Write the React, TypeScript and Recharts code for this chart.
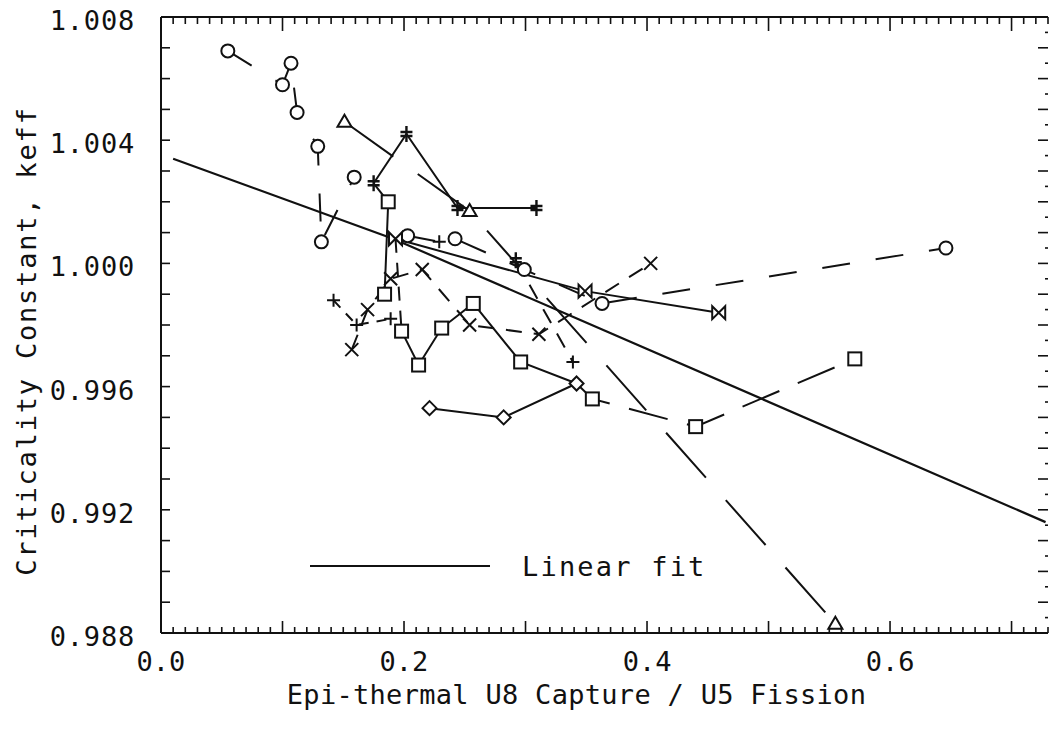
import React from 'react';
import { ComposedChart, Line, Scatter, XAxis, YAxis, Legend } from 'recharts';

const INK = '#111';
const FONT = "'DejaVu Sans Mono', 'Liberation Mono', monospace";

// tick labels
const xTickLabels = [0, 0.2, 0.4, 0.6];
const yTickLabels = [0.988, 0.992, 0.996, 1.0, 1.004, 1.008];

// markers (x = epi-thermal U8 capture / U5 fission, y = keff)
const circles = [
  { x: 0.055, y: 1.0069 },
  { x: 0.107, y: 1.0065 },
  { x: 0.1, y: 1.0058 },
  { x: 0.112, y: 1.0049 },
  { x: 0.129, y: 1.0038 },
  { x: 0.132, y: 1.0007 },
  { x: 0.159, y: 1.0028 },
  { x: 0.203, y: 1.0009 },
  { x: 0.242, y: 1.0008 },
  { x: 0.299, y: 0.9998 },
  { x: 0.363, y: 0.9987 },
  { x: 0.646, y: 1.0005 },
];
const triangles = [
  { x: 0.151, y: 1.0046 },
  { x: 0.254, y: 1.0017 },
  { x: 0.555, y: 0.9883 },
];
const bowties = [
  { x: 0.193, y: 1.0008 },
  { x: 0.349, y: 0.9991 },
  { x: 0.459, y: 0.9984 },
];
const squares = [
  { x: 0.187, y: 1.002 },
  { x: 0.184, y: 0.999 },
  { x: 0.198, y: 0.9978 },
  { x: 0.212, y: 0.9967 },
  { x: 0.231, y: 0.9979 },
  { x: 0.257, y: 0.9987 },
  { x: 0.296, y: 0.9968 },
  { x: 0.355, y: 0.9956 },
  { x: 0.44, y: 0.9947 },
  { x: 0.571, y: 0.9969 },
];
const crosses = [
  { x: 0.157, y: 0.9972 },
  { x: 0.17, y: 0.9985 },
  { x: 0.189, y: 0.9995 },
  { x: 0.215, y: 0.9998 },
  { x: 0.254, y: 0.998 },
  { x: 0.311, y: 0.9977 },
  { x: 0.403, y: 1.0 },
];
const pluses = [
  { x: 0.142, y: 0.9988 },
  { x: 0.161, y: 0.998 },
  { x: 0.189, y: 0.9982 },
  { x: 0.229, y: 1.0007 },
  { x: 0.339, y: 0.9968 },
];
const barCrosses = [
  { x: 0.175, y: 1.0026 },
  { x: 0.202, y: 1.0042 },
  { x: 0.244, y: 1.0018 },
  { x: 0.309, y: 1.0018 },
  { x: 0.292, y: 1.0001 },
];
const diamonds = [
  { x: 0.221, y: 0.9953 },
  { x: 0.282, y: 0.995 },
  { x: 0.342, y: 0.9961 },
];

// linear fit, read at a few points along the drawn line
const linearFit = [
  { x: 0.01, y: 1.0034 },
  { x: 0.191, y: 1.0008 },
  { x: 0.337, y: 0.9983 },
  { x: 0.728, y: 0.9916 },
];

// connecting lines between the measured points
const runs: { pts: { x: number; y: number }[]; dash?: string }[] = [
  { pts: [circles[0], circles[2], circles[1], circles[3], circles[4], circles[5], circles[6]], dash: '28 28' },
  { pts: [circles[7], pluses[3], circles[8], circles[9], circles[10], circles[11]], dash: '28 26' },
  { pts: [triangles[0], triangles[1], triangles[2]], dash: '60 30' },
  { pts: [barCrosses[0], barCrosses[1], barCrosses[2], barCrosses[3]] },
  { pts: [squares[1], squares[0], barCrosses[0]] },
  { pts: [bowties[0], bowties[1], bowties[2]] },
  { pts: [bowties[0], squares[2]], dash: '14 10' },
  { pts: [squares[2], squares[3], squares[4], squares[5], squares[6], diamonds[2]] },
  { pts: [diamonds[2], squares[7], squares[8], squares[9]], dash: '40 20' },
  { pts: [diamonds[0], diamonds[1], diamonds[2]] },
  { pts: [crosses[0], crosses[1], crosses[2], crosses[3], crosses[4], crosses[5], crosses[6]], dash: '16 12' },
  { pts: [pluses[0], pluses[1], pluses[2]], dash: '10 8' },
  { pts: [barCrosses[4], pluses[4]], dash: '16 12' },
];

const xMinor = Array.from({ length: 74 }, (_, i) => i / 100);
const yLeftTicks = Array.from({ length: 21 }, (_, i) => (988 + i) / 1000);
const yRightTicks = Array.from({ length: 41 }, (_, i) => (1976 + i) / 2000);

const txt = { fontFamily: FONT, fontSize: 27, fill: INK };

const Marker = ({ cx, cy, kind }: { cx?: number; cy?: number; kind: string }) => {
  if (cx == null || cy == null) return null;
  const s = 6.5;
  const st = { stroke: INK, strokeWidth: 2, fill: '#fff' };
  switch (kind) {
    case 'circle':
      return <circle cx={cx} cy={cy} r={s} {...st} />;
    case 'square':
      return <rect x={cx - s} y={cy - s} width={2 * s} height={2 * s} {...st} />;
    case 'triangle':
      return <path d={`M${cx},${cy - 7} L${cx + 7},${cy + 5} L${cx - 7},${cy + 5} Z`} {...st} />;
    case 'diamond':
      return <path d={`M${cx},${cy - 7} L${cx + 7},${cy} L${cx},${cy + 7} L${cx - 7},${cy} Z`} {...st} />;
    case 'bowtie':
      return <path d={`M${cx - s},${cy - s} L${cx + s},${cy + s} L${cx + s},${cy - s} L${cx - s},${cy + s} Z`} {...st} />;
    case 'cross':
      return (
        <path d={`M${cx - s},${cy - s} L${cx + s},${cy + s} M${cx + s},${cy - s} L${cx - s},${cy + s}`} stroke={INK} strokeWidth={2} fill="none" />
      );
    case 'plus':
      return <path d={`M${cx - s},${cy} L${cx + s},${cy} M${cx},${cy - s} L${cx},${cy + s}`} stroke={INK} strokeWidth={2} fill="none" />;
    default:
      return (
        <path
          d={`M${cx},${cy - 8} L${cx},${cy + 8} M${cx - 6},${cy - 2} L${cx + 6},${cy - 2} M${cx - 6},${cy + 2} L${cx + 6},${cy + 2}`}
          stroke={INK}
          strokeWidth={2.4}
          fill="none"
        />
      );
  }
};

const BottomTick = (p: any) => {
  const k = Math.round(p.payload.value * 100);
  const label = xTickLabels.find(v => Math.round(v * 100) === k);
  return (
    <g>
      <line x1={p.x} x2={p.x} y1={p.y} y2={p.y - (k % 10 === 0 ? 12 : 6)} stroke={INK} strokeWidth={1.6} />
      {label !== undefined && (
        <text x={p.x} y={p.y + 38} textAnchor="middle" {...txt}>
          {label.toFixed(1)}
        </text>
      )}
    </g>
  );
};

const TopTick = (p: any) => {
  const k = Math.round(p.payload.value * 100);
  return <line x1={p.x} x2={p.x} y1={p.y} y2={p.y + (k % 10 === 0 ? 14 : 7)} stroke={INK} strokeWidth={1.6} />;
};

const LeftTick = (p: any) => {
  const k = Math.round(p.payload.value * 1000);
  const label = yTickLabels.find(v => Math.round(v * 1000) === k);
  return (
    <g>
      <line x1={p.x} x2={p.x + 9} y1={p.y} y2={p.y} stroke={INK} strokeWidth={1.6} />
      {label !== undefined && (
        <text x={p.x - 26} y={p.y + 13} textAnchor="end" letterSpacing={0.8} {...txt}>
          {label.toFixed(3)}
        </text>
      )}
    </g>
  );
};

const RightTick = (p: any) => {
  const k = Math.round(p.payload.value * 2000);
  return <line x1={p.x} x2={p.x - (k % 2 === 0 ? 10 : 3)} y1={p.y} y2={p.y} stroke={INK} strokeWidth={1.6} />;
};

export default function App() {
  return (
    <div style={{ position: 'absolute', left: 0, top: 0, width: 1049, height: 734, background: '#fff' }}>
      <ComposedChart width={1049} height={734} margin={{ top: 16, right: 0, bottom: 100, left: 160 }}>
        <XAxis
          xAxisId="b"
          dataKey="x"
          type="number"
          domain={[0, 0.73]}
          allowDataOverflow
          ticks={xMinor}
          interval={0}
          height={1}
          tickSize={0}
          tickMargin={0}
          tick={<BottomTick />}
          axisLine={{ stroke: INK, strokeWidth: 2 }}
          label={{
            content: (lp: any) => {
              const vb = lp.viewBox;
              return (
                <text x={vb.x + vb.width / 2 - 28} y={vb.y + 71} textAnchor="middle" letterSpacing={0.3} {...txt}>
                  Epi-thermal U8 Capture / U5 Fission
                </text>
              );
            },
          }}
        />
        <XAxis
          xAxisId="t"
          dataKey="x"
          orientation="top"
          type="number"
          domain={[0, 0.73]}
          allowDataOverflow
          ticks={xMinor}
          interval={0}
          height={1}
          tickSize={0}
          tickMargin={0}
          tick={<TopTick />}
          axisLine={{ stroke: INK, strokeWidth: 2 }}
        />
        <YAxis
          yAxisId="l"
          type="number"
          domain={[0.988, 1.008]}
          allowDataOverflow
          ticks={yLeftTicks}
          interval={0}
          width={1}
          tickSize={0}
          tickMargin={0}
          tick={<LeftTick />}
          axisLine={{ stroke: INK, strokeWidth: 2 }}
          label={{
            content: (lp: any) => {
              const vb = lp.viewBox;
              const cy = vb.y + vb.height / 2 + 16;
              return (
                <text transform={`translate(26, ${cy}) rotate(-90)`} textAnchor="middle" dominantBaseline="central" letterSpacing={1.8} {...txt}>
                  Criticality Constant, keff
                </text>
              );
            },
          }}
        />
        <YAxis
          yAxisId="r"
          orientation="right"
          type="number"
          domain={[0.988, 1.008]}
          allowDataOverflow
          ticks={yRightTicks}
          interval={0}
          width={1}
          tickSize={0}
          tickMargin={0}
          tick={<RightTick />}
          axisLine={false}
        />

        <Line
          data={linearFit}
          dataKey="y"
          xAxisId="b"
          yAxisId="l"
          type="linear"
          stroke={INK}
          strokeWidth={2.2}
          dot={false}
          activeDot={false}
          isAnimationActive={false}
        />
        {runs.map((r, i) => (
          <Line
            key={i}
            data={r.pts}
            dataKey="y"
            xAxisId="b"
            yAxisId="l"
            type="linear"
            stroke={INK}
            strokeWidth={2}
            strokeDasharray={r.dash}
            dot={false}
            activeDot={false}
            isAnimationActive={false}
          />
        ))}

        {(
          [
            ['circle', circles],
            ['triangle', triangles],
            ['bowtie', bowties],
            ['square', squares],
            ['cross', crosses],
            ['plus', pluses],
            ['barcross', barCrosses],
            ['diamond', diamonds],
          ] as [string, { x: number; y: number }[]][]
        ).map(([kind, pts]) => (
          <Scatter
            key={kind}
            data={pts}
            dataKey="y"
            xAxisId="b"
            yAxisId="l"
            isAnimationActive={false}
            shape={(p: any) => <Marker cx={p.cx} cy={p.cy} kind={kind} />}
          />
        ))}

        <Legend
          layout="horizontal"
          verticalAlign="middle"
          align="center"
          wrapperStyle={{ left: 300, top: 546, width: 440, height: 40 }}
          content={() => (
            <svg width={440} height={40}>
              <line x1={10} x2={190} y1={20} y2={20} stroke={INK} strokeWidth={2} />
              <text x={222} y={30} letterSpacing={2.2} {...txt}>
                Linear fit
              </text>
            </svg>
          )}
        />
      </ComposedChart>
    </div>
  );
}
